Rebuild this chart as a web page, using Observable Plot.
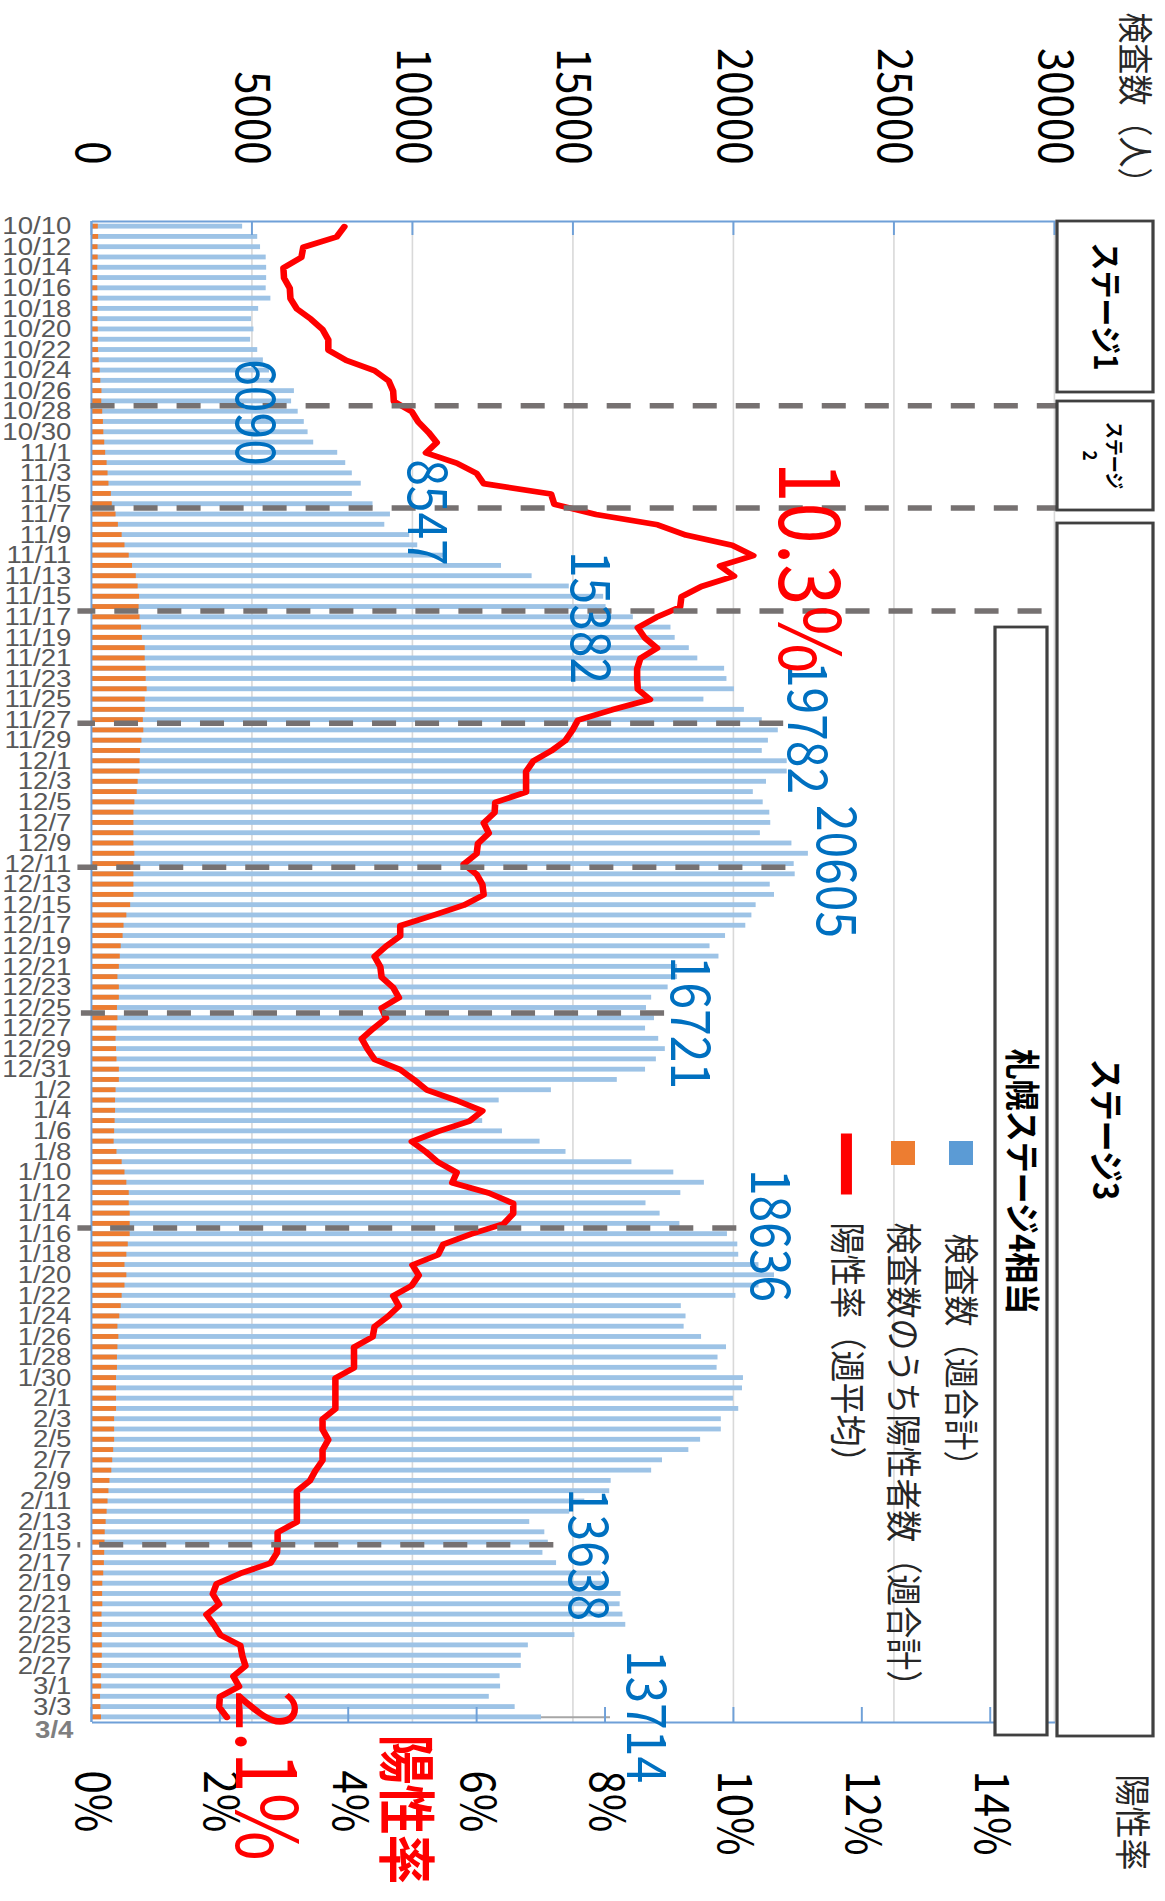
<!DOCTYPE html>
<html><head><meta charset="utf-8">
<script src="https://cdn.jsdelivr.net/npm/d3@7"></script>
<script src="https://cdn.jsdelivr.net/npm/@observablehq/plot@0.6"></script>
<style>
html,body{margin:0;padding:0;background:#fff;}
body{width:1165px;height:1901px;overflow:hidden;position:relative;}
#wrap{position:absolute;left:0;top:0;width:1901px;height:1013px;transform-origin:0 0;}
</style></head><body><div id="wrap"></div>
<script>
// ---------------- data ----------------
// weekly total tests (検査数), one value per day 10/10 .. 3/4
const tests = [4677,5147,5235,5411,5425,5425,5411,5557,5176,4956,
 5029,4927,5147,5323,5513,5660,6290,6202,6408,6598,
 6716,6891,7639,7889,8094,8372,8094,8739,9282,9106,
 9883,10132,11056,12742,13695,14853,15924,16000,16848,18021,
 18152,18592,18857,19692,19765,20000,19047,20308,20865,21364,
 21056,20865,21642,21642,20997,20586,20894,21100,21129,20806,
 21789,22302,21860,21891,21114,21246,20674,20542,20352,19721,
 19238,19516,18226,18226,17933,17419,17258,17507,17229,17639,
 17845,17566,17229,16349,14296,12669,12082,12155,12771,13944,
 14751,16804,18109,19062,18328,17243,17683,18299,19780,20103,
 20132,20762,21246,20762,20044,18343,18490,18431,18974,19751,
 19487,19458,20279,20249,19971,20132,19589,19589,18944,18578,
 17757,17419,16158,16114,15337,14868,13622,14091,14200,14032,
 14457,15850,16070,16466,16437,16525,16613,15029,13578,13358,
 13358,12698,12713,12361,13167,13988];
// weekly total positives (検査数のうち陽性者数)
const positives = [180,190,172,176,163,163,166,170,166,168,
 178,180,185,208,240,258,294,288,318,340,
 352,381,410,455,484,513,587,616,733,806,
 924,1012,1144,1246,1364,1422,1466,1452,1481,1525,
 1554,1642,1642,1672,1672,1701,1642,1642,1584,1598,
 1540,1496,1481,1481,1422,1393,1320,1290,1290,1290,
 1290,1320,1290,1290,1290,1290,1188,1070,982,953,
 894,865,836,792,836,836,777,792,762,733,
 748,762,836,836,733,718,718,704,689,674,
 762,924,1012,1070,1144,1144,1173,1173,1173,1114,
 1070,1012,1070,1012,924,894,850,792,821,792,
 777,777,748,748,748,748,689,689,689,660,
 630,601,543,513,484,455,425,396,390,380,
 370,350,320,315,320,296,305,300,305,305,
 300,275,285,250,260,280];
// positive rate, weekly average (%)
const rate = [3.94,3.82,3.30,3.27,2.99,3.00,3.09,3.10,3.20,3.42,
 3.60,3.69,3.69,3.97,4.41,4.63,4.70,4.71,4.99,5.09,
 5.25,5.38,5.21,5.69,6.00,6.11,7.16,7.21,7.86,8.82,
 9.26,9.98,10.31,9.79,10.01,9.50,9.19,9.17,8.80,8.51,
 8.62,8.81,8.55,8.50,8.50,8.51,8.70,8.11,7.58,7.49,
 7.38,7.16,6.88,6.77,6.77,6.77,6.29,6.28,6.11,6.19,
 6.02,6.00,5.80,6.00,6.09,6.11,5.80,5.32,4.81,4.81,
 4.59,4.41,4.50,4.52,4.70,4.79,4.52,4.59,4.39,4.21,
 4.30,4.41,4.81,5.03,5.23,5.69,6.09,5.89,5.40,4.99,
 5.21,5.40,5.69,5.62,6.19,6.57,6.57,6.42,5.91,5.48,
 5.40,5.00,5.10,4.99,4.70,4.79,4.62,4.41,4.38,4.09,
 4.09,4.09,3.80,3.80,3.80,3.80,3.60,3.60,3.69,3.60,
 3.60,3.49,3.40,3.20,3.20,3.20,3.20,2.90,2.90,2.89,
 2.79,2.32,1.95,1.89,1.99,1.79,1.91,2.01,2.32,2.35,
 2.40,2.21,2.30,2.00,1.99,2.11];
// category dates
const dates = d3.utcDays(new Date(Date.UTC(2020,9,10)), new Date(Date.UTC(2021,2,5)))
  .map(d => `${d.getUTCMonth()+1}/${d.getUTCDate()}`);
const dateTickIdx = d3.range(0, 144 + 1, 2);
const lastDateLabel = "3/4";
const countTicks = [0,5000,10000,15000,20000,25000,30000];
const pctTicks = [0,2,4,6,8,10,12,14];
// stage-change boundaries (day index) and how far each dashed line reaches (count units)
const stageBoundaries = [17.41, 27.37, 37.39, 48.3, 62.32, 76.5, 97.4, 128.2];
const stageLineReach = [30200, 30200, 29600, 21550, 21620, 17840, 20090, 14390];
const valueLabels = ["6090","8547","15382","19782","20605","16721","18636","13638","13714"];

// ---------------- layout (reference picture coordinates) ----------------
const H = 1013, Sy = 1165 / H;
const k = 1501 / 146;
const xOf = py => (py - 221) / k - 0.5;          // picture y -> day index
const yOf = px => (px - 92) * 30000 / 963;        // picture x -> count units
const CJK = "'Noto Sans CJK JP','Noto Sans',sans-serif";
const AX = "#6FA0D8";

const rows = tests.map((t, i) => ({i, tests: t, pos: positives[i], rate: rate[i]}));
const bw = 0.235;

const valueLabelPos = [[412,254],[512,426],[617,589],[727,806],[871,835],[1022,689],[1235,769],[1554,587],[1716,645]];

const stageBoxes = [
  {py1:221, py2:392, px1:1057, px2:1153},
  {py1:401, py2:510, px1:1057, px2:1153},
  {py1:523, py2:1736, px1:1057, px2:1153},
  {py1:627, py2:1735, px1:995, px2:1047}
];

const annotations = [
  {t:"検査数（人）", py:12, px:1134, size:31, fill:"#262626", anchor:"start"},
  {t:"陽性率", py:1774, px:1131, size:32, fill:"#262626", anchor:"start"},
  {t:"陽性率", py:1809, px:404, size:50, fill:"#FF0000", weight:"bold"},
  ...valueLabels.map((t, j) => ({t, py: valueLabelPos[j][0], px: valueLabelPos[j][1], size: 48, fill: "#0070C0"})),
  {t:"10.3%", py:567, px:807, size:74, fill:"#FF0000"},
  {t:"2.1%", py:1775, px:264, size:74, fill:"#FF0000"},
  {t:"ステージ1", py:306, px:1105, size:28, weight:"bold"},
  {t:"ステージ", py:455, px:1114, size:17, weight:"bold"},
  {t:"2", py:455, px:1090, size:17, weight:"bold"},
  {t:"ステージ3", py:1129, px:1105, size:31, weight:"bold"},
  {t:"札幌ステージ4相当", py:1181, px:1021, size:31, weight:"bold"},
  {t:"検査数（週合計）", py:1233, px:960, size:31, fill:"#262626", anchor:"start"},
  {t:"検査数のうち陽性者数（週合計）", py:1222, px:902, size:32, fill:"#262626", anchor:"start"},
  {t:"陽性率（週平均）", py:1222, px:846, size:32, fill:"#262626", anchor:"start"}
];

const T = a => Plot.text([a], {
  x: xOf(a.py), y: yOf(a.px), text: d => d.t,
  fontSize: a.size, fill: a.fill || "#000", fontWeight: a.weight || "normal",
  textAnchor: a.anchor || "middle", fontFamily: CJK
});

const chart = Plot.plot({
  width: 1901, height: H,
  marginLeft: 221, marginRight: 179,
  marginTop: 110 / Sy, marginBottom: H - 1073 / Sy,
  x: {type: "linear", domain: [-0.5, 145.5], axis: null},
  y: {type: "linear", domain: [0, 30000], axis: null},
  style: {fontFamily: CJK, background: "white", overflow: "visible", maxWidth: "none"},
  marks: [
    Plot.ruleY([5000,10000,15000,20000,25000,30000], {x1: -0.5, x2: 145.5, stroke: "#D9D9D9", strokeWidth: 1.4}),
    Plot.ruleX([145], {y1: tests[145], y2: yOf(610), stroke: "#A6A6A6", strokeWidth: 2}),
    Plot.rect(rows, {x1: d => d.i - bw, x2: d => d.i + bw, y1: 0, y2: "tests", fill: "#9DC3E6"}),
    Plot.rect(rows, {x1: d => d.i - bw, x2: d => d.i + bw, y1: 0, y2: "pos", fill: "#ED7D31"}),
    // axis lines and inward ticks
    Plot.ruleX([-0.5, 145.5], {y1: 0, y2: 30000, stroke: AX, strokeWidth: 2}),
    Plot.ruleY([0], {x1: -0.5, x2: 145.5, stroke: AX, strokeWidth: 1.7}),
    Plot.ruleY(countTicks, {x1: -0.5, x2: xOf(235), stroke: AX, strokeWidth: 1.7}),
    Plot.ruleY(pctTicks.map(p => p * 2000), {x1: xOf(1707), x2: 145.5, stroke: AX, strokeWidth: 1.7}),
    // positive rate line (secondary axis 0-15% mapped onto 0-30000)
    Plot.line(rows, {x: "i", y: d => d.rate * 2000, stroke: "#FF0000", strokeWidth: 5.7,
      strokeLinejoin: "round", strokeLinecap: "round"}),
    // stage boundaries (drawn from their far end so each ends on a full dash)
    Plot.link(stageBoundaries.map((b, j) => ({b, top: stageLineReach[j]})), {
      x1: "b", x2: "b", y1: "top", y2: yOf(78), stroke: "#767171", strokeWidth: 5.5,
      strokeDasharray: "20.9,16.5"}),
    // stage boxes
    Plot.rect(stageBoxes, {x1: d => xOf(d.py1), x2: d => xOf(d.py2), y1: d => yOf(d.px1), y2: d => yOf(d.px2),
      fill: "white", stroke: "#404040", strokeWidth: 2.8}),
    // legend symbols
    Plot.rect([0], {x1: xOf(1141), x2: xOf(1165), y1: yOf(949), y2: yOf(973), fill: "#5B9BD5"}),
    Plot.rect([0], {x1: xOf(1141), x2: xOf(1165), y1: yOf(891), y2: yOf(915), fill: "#ED7D31"}),
    Plot.link([0], {x1: xOf(1133), x2: xOf(1194), y1: yOf(847), y2: yOf(847), stroke: "#FF0000", strokeWidth: 9.6}),
    // axis tick labels
    Plot.text(countTicks, {x: xOf(164), y: d => d, text: d => String(d), textAnchor: "end", fontSize: 42, fill: "#000"}),
    Plot.text(pctTicks, {x: xOf(1770), y: d => d * 2000, text: d => d + "%", textAnchor: "start", fontSize: 42, fill: "#000"}),
    Plot.text(dateTickIdx, {x: d => d, y: yOf(72), text: d => dates[d], rotate: -90, textAnchor: "end",
      fontSize: 24, fontFamily: "'Liberation Sans',Arial,sans-serif", fill: "#595959"}),
    Plot.text([lastDateLabel], {x: xOf(1730), y: yOf(74), text: d => d, rotate: -90, textAnchor: "end",
      fontSize: 24, fontWeight: "bold", fontFamily: "'Liberation Sans',Arial,sans-serif", fill: "#7F7F7F"}),
    ...annotations.map(T)
  ]
});

const wrap = document.getElementById("wrap");
wrap.style.transform = `translate(1165px, 0) rotate(90deg) scale(1, ${Sy})`;
wrap.appendChild(chart);
</script></body></html>
